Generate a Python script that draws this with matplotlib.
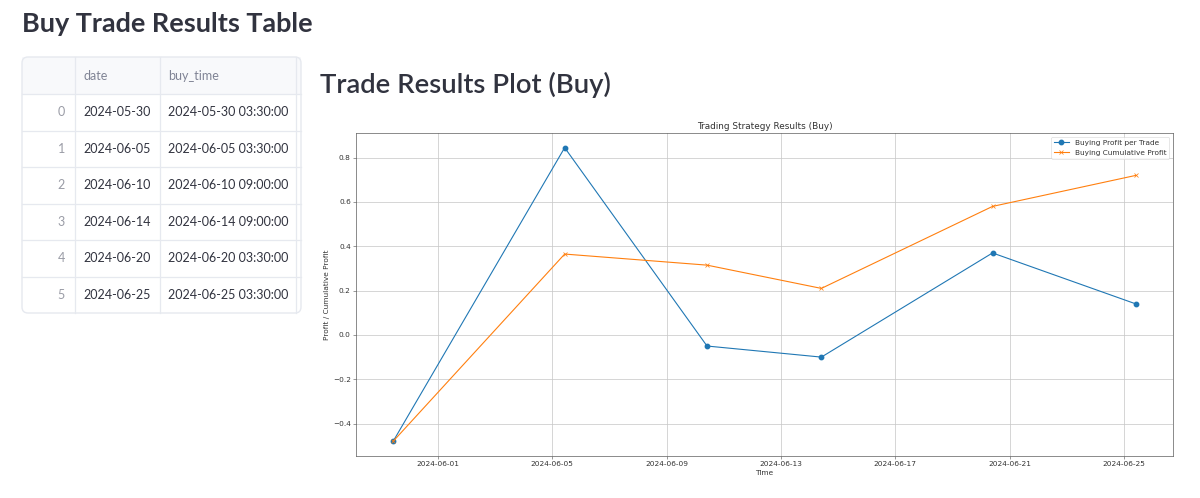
import pandas as pd
import matplotlib
matplotlib.use('Agg')
import matplotlib.pyplot as plt
import matplotlib.dates as mdates
from matplotlib.patches import FancyBboxPatch, Rectangle

# table content
row_index = [0, 1, 2, 3, 4, 5]
dates = ["2024-05-30", "2024-06-05", "2024-06-10", "2024-06-14", "2024-06-20", "2024-06-25"]
buy_times = ["2024-05-30 03:30:00", "2024-06-05 03:30:00", "2024-06-10 09:00:00",
             "2024-06-14 09:00:00", "2024-06-20 03:30:00", "2024-06-25 03:30:00"]

# plot content
trade_times = ["2024-05-30 10:30", "2024-06-05 10:30", "2024-06-10 10:00",
               "2024-06-14 10:00", "2024-06-20 09:40", "2024-06-25 10:00"]
profit = [-0.48, 0.845, -0.05, -0.10, 0.37, 0.14]
cumulative = [-0.48, 0.365, 0.315, 0.21, 0.58, 0.72]
xticks = ["2024-06-01", "2024-06-05", "2024-06-09", "2024-06-13",
          "2024-06-17", "2024-06-21", "2024-06-25"]

W, H = 1200, 498
TXT = '#31333F'
GRID = '#e6e9ef'
HEAD_FONT = 'Lato'

fig = plt.figure(figsize=(W / 100, H / 100), dpi=100)
fig.patch.set_facecolor('white')

# page layer in pixel coordinates
page = fig.add_axes([0, 0, 1, 1])
page.set_xlim(0, W)
page.set_ylim(H, 0)
page.axis('off')


def fit_text(ax, x, y, s, width, **kw):
    t = ax.text(x, y, s, **kw)
    r = fig.canvas.get_renderer()
    w = t.get_window_extent(r).width
    t.set_fontsize(t.get_fontsize() * width / w)
    return t


fit_text(page, 22, 24, "Buy Trade Results Table", 291, fontsize=20, fontfamily=HEAD_FONT,
         fontweight='bold', color=TXT, va='center', ha='left')
fit_text(page, 320, 85, "Trade Results Plot (Buy)", 291, fontsize=20, fontfamily=HEAD_FONT,
         fontweight='semibold', color=TXT, va='center', ha='left')

# dataframe widget
tx0, tx1, ty0, ty1 = 22, 301, 57, 313
head_h = 37
row_h = (ty1 - ty0 - head_h) / len(dates)
col_x = [75, 159.5, 296]
page.add_patch(Rectangle((tx0, ty0), tx1 - tx0, head_h, facecolor='#f8f9fb', edgecolor='none'))
for i in range(1, len(dates)):
    yy = ty0 + head_h + i * row_h
    page.plot([tx0, tx1], [yy, yy], color=GRID, lw=0.9)
page.plot([tx0, tx1], [ty0 + head_h] * 2, color=GRID, lw=0.9)
for cx in col_x:
    page.plot([cx, cx], [ty0, ty1], color=GRID, lw=0.9)
page.add_patch(FancyBboxPatch((tx0, ty0), tx1 - tx0, ty1 - ty0,
                              boxstyle='round,pad=0,rounding_size=6',
                              facecolor='none', edgecolor=GRID, lw=1.0))

# font size chosen so a full timestamp fills its 120 px like the reference
probe = fit_text(page, 0, -100, buy_times[0], 120, fontsize=10, fontfamily=HEAD_FONT)
cell_fs = probe.get_fontsize()
probe.remove()

page.text(83, ty0 + head_h / 2, "date", fontsize=cell_fs, fontfamily=HEAD_FONT,
          color='#808495', va='center')
page.text(168, ty0 + head_h / 2, "buy_time", fontsize=cell_fs, fontfamily=HEAD_FONT,
          color='#808495', va='center')
for i, (idx, d, bt) in enumerate(zip(row_index, dates, buy_times)):
    yc = ty0 + head_h + (i + 0.5) * row_h
    page.text(65, yc, str(idx), fontsize=cell_fs, fontfamily=HEAD_FONT,
              color='#9a9ca6', va='center', ha='right')
    page.text(83, yc, d, fontsize=cell_fs, fontfamily=HEAD_FONT, color=TXT, va='center')
    page.text(168, yc, bt, fontsize=cell_fs, fontfamily=HEAD_FONT, color=TXT, va='center')

# embedded matplotlib chart (scaled down)
s = 0.53
ink = '#333333'
ax = fig.add_axes([356 / W, (H - 456) / H, (1173 - 356) / W, (456 - 133) / H])
t = pd.to_datetime(trade_times)
ax.plot(t, profit, marker='o', color='#1f77b4', lw=1.5 * s, ms=6 * s,
        label='Buying Profit per Trade')
ax.plot(t, cumulative, marker='x', color='#ff7f0e', lw=1.5 * s, ms=6 * s,
        mew=1.0 * s, label='Buying Cumulative Profit')
ax.set_xticks(pd.to_datetime(xticks))
ax.xaxis.set_major_formatter(mdates.DateFormatter('%Y-%m-%d'))
ax.set_title('Trading Strategy Results (Buy)', fontsize=12 * s, pad=6 * s, color=ink)
ax.set_xlabel('Time', fontsize=10 * s, labelpad=4 * s, color=ink)
ax.set_ylabel('Profit / Cumulative Profit', fontsize=10 * s, labelpad=4 * s, color=ink)
ax.tick_params(labelsize=10 * s, length=3.5 * s, width=0.8 * s, pad=3.5 * s,
               labelcolor=ink, color='#555555')
for sp in ax.spines.values():
    sp.set_linewidth(0.9 * s)
    sp.set_color('#555555')
ax.grid(True, color='#c8c8c8', lw=1.0 * s)
leg = ax.legend(loc='best', fontsize=10 * s, borderpad=0.4, handlelength=2.0)
leg.get_frame().set_linewidth(0.8 * s)
for txt in leg.get_texts():
    txt.set_color(ink)

fig.savefig('out.png', dpi=100)
